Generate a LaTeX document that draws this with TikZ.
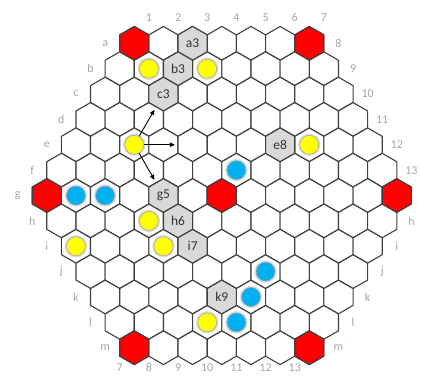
\documentclass[tikz,border=0pt]{standalone}
\usepackage{fontspec}
\setmainfont{Carlito}
\usetikzlibrary{shapes.geometric,arrows.meta,calc}

\definecolor{hexline}{HTML}{404040}
\definecolor{hexred}{HTML}{FF0000}
\definecolor{hexgray}{HTML}{D9D9D9}
\definecolor{axisgray}{HTML}{A6A6A6}
\definecolor{stoneyellow}{HTML}{FFFF00}
\definecolor{stoneblue}{HTML}{00B0F0}

\begin{document}
\begin{tikzpicture}[x=29.17pt,y=-25.37pt,line join=round]
    \tikzstyle{cell}=[regular polygon, regular polygon sides=6, shape border rotate=30,
        minimum size=33.68pt, inner sep=0pt, outer sep=0pt, draw=hexline, line width=1.1pt, fill=white]
    \tikzstyle{redcell}=[cell, fill=hexred]
    \tikzstyle{markcell}=[cell, fill=hexgray, text=black!80, font=\fontsize{13.5}{14}\selectfont]
    \tikzstyle{axis}=[text=axisgray, font=\fontsize{12}{12}\selectfont, inner sep=0pt]
    \tikzstyle{stone}=[circle, minimum size=19pt, inner sep=0pt, draw=black!35, line width=0.6pt,
        preaction={draw=black!13, line width=3.5pt}]
    \tikzstyle{yellowstone}=[stone, fill=stoneyellow]
    \tikzstyle{bluestone}=[stone, fill=stoneblue]
    \tikzstyle{move}=[-{Triangle[length=5pt,width=4.5pt]}, line width=0.9pt, black]

    \useasboundingbox (-4.604,-1.707) rectangle (9.829,13.114);

    \foreach \r [count=\i from 0] in {a,...,m} {
        \pgfmathtruncatemacro\jlo{max(1,\i-5)}
        \pgfmathtruncatemacro\jhi{min(13,\i+7)}
        \foreach \c in {\jlo,...,\jhi}
            \node[cell] (\r\c) at ({\c-1-\i/2},\i) {};
        \node[axis] (left-\r) at ({\jlo-2-\i/2},\i) {\r};
    }
    \foreach \r [count=\i from 7] in {h,...,m}
        \node[axis] (right-\r) at ({13-\i/2},\i) {\r};
    \foreach \c in {1,...,7}
        \node[axis] (top-\c) at ({\c-0.5},-1) {\c};
    \foreach \c [count=\i] in {8,...,13}
        \node[axis] (top-\c) at ({\c-0.5-\i/2},{\i-1}) {\c};
    \foreach \c in {7,...,13}
        \node[axis] (bottom-\c) at ({\c-7.5},12.78) {\c};

    \foreach \n in {a1,a7,g1,g7,g13,m7,m13}
        \node[redcell] (red-\n) at (\n) {};
    \foreach \n in {a3,b3,c3,e8,g5,h6,i7,k9}
        \node[markcell] (mark-\n) at (\n) {\n};

    \foreach \n in {b2,b4,e3,e9,h5,i3,i6,l9}
        \node[yellowstone] (s-\n) at (\n) {};
    \foreach \n in {f7,g2,g3,j10,k10,l10}
        \node[bluestone] (s-\n) at (\n) {};

    \coordinate (to-c3) at ($(e3)+(0.69,-1.38)$);
    \coordinate (to-e5) at ($(e3)+(1.39,0)$);
    \coordinate (to-g5) at ($(e3)+(0.69,1.38)$);
    \draw[move] (s-e3) -- (to-c3);
    \draw[move] (s-e3) -- (to-e5);
    \draw[move] (s-e3) -- (to-g5);

\end{tikzpicture}
\end{document}
